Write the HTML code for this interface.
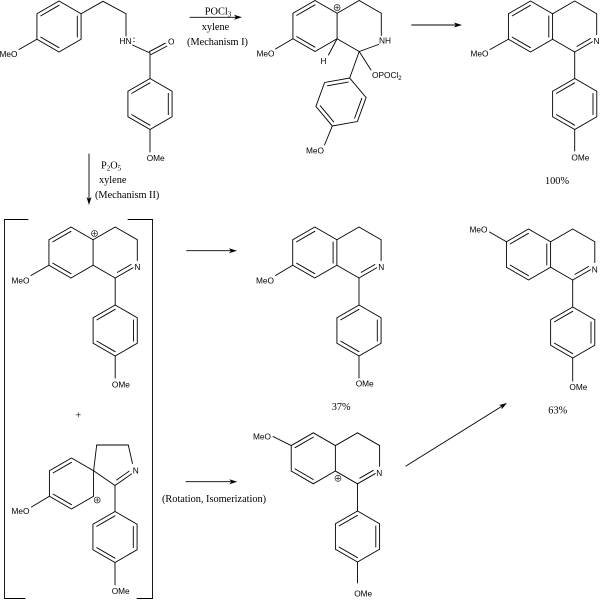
<!DOCTYPE html>
<html><head><meta charset="utf-8"><style>
html,body{margin:0;padding:0;background:#fff;}
svg{display:block;}
.s{font-family:"Liberation Sans",Arial,sans-serif;font-size:8.3px;fill:#000;}
.r{font-family:"Liberation Serif","Times New Roman",serif;font-size:10.3px;fill:#000;}
</style></head><body>
<svg width="600" height="600" viewBox="0 0 600 600" xmlns="http://www.w3.org/2000/svg">
<rect width="600" height="600" fill="#fff"/>
<defs>
<g id="ph">
<polygon points="0,-25.5 22.08,-12.75 22.08,12.75 0,25.5 -22.08,12.75 -22.08,-12.75" fill="none"/>
<line x1="-18.3" y1="-10.6" x2="0" y2="-21.2"/>
<line x1="18.3" y1="-10.6" x2="18.3" y2="10.6"/>
<line x1="0" y1="21.2" x2="-18.3" y2="10.6"/>
</g>
<g id="hx2">
<polygon points="0,-25.5 22.08,-12.75 22.08,12.75 0,25.5 -22.08,12.75 -22.08,-12.75" fill="none"/>
<line x1="-18.3" y1="-10.6" x2="0" y2="-21.2"/>
<line x1="0" y1="21.2" x2="-18.3" y2="10.6"/>
</g>
<g id="pc">
<circle r="3" fill="none" stroke-width="0.6"/>
<path d="M-1.9 0H1.9M0 -1.9V1.9" stroke-width="0.6"/>
</g>
<path id="ah" d="M0 0L-8 -2.5L-6 0L-8 2.5Z" fill="#000" stroke="none"/>
</defs>

<g stroke="#000" stroke-width="0.9" fill="none" stroke-linecap="round">
<!-- Molecule A: starting amide -->
<use href="#ph" transform="translate(59,26.5)"/>
<line x1="36.9" y1="39.25" x2="19" y2="49.5"/>
<polyline points="81.1,13.75 103,1.3 126,13.75 126,36"/>
<line x1="132.5" y1="45" x2="150" y2="53"/>
<line x1="149.3" y1="51.7" x2="165.3" y2="43.2"/>
<line x1="150.9" y1="54.6" x2="166.9" y2="46.1"/>
<line x1="150" y1="53" x2="150" y2="78.5"/>
<use href="#ph" transform="translate(150,104)"/>
<line x1="150" y1="129.5" x2="150" y2="152"/>

<!-- Top arrow 1 -->
<line x1="190" y1="17.3" x2="236" y2="17.3"/>
<!-- Molecule B -->
<use href="#hx2" transform="translate(315,26)"/>
<polyline points="337.1,13.25 359.2,0.5 381.3,13.25 381.3,35.5"/>
<line x1="378.5" y1="44.5" x2="359.2" y2="51.5"/>
<line x1="359.2" y1="51.5" x2="337.1" y2="38.75"/>
<line x1="337.1" y1="38.75" x2="328.5" y2="55"/>
<line x1="359.2" y1="51.5" x2="371" y2="70"/>
<line x1="359.2" y1="51.5" x2="349.7" y2="78"/>
<use href="#ph" transform="translate(341,102) rotate(20)"/>
<line x1="332.3" y1="126" x2="324.5" y2="145"/>
<line x1="292.9" y1="38.75" x2="275.5" y2="49"/>
<use href="#pc" transform="translate(337.1,7.5)"/>

<!-- Top arrow 2 -->
<line x1="411.7" y1="25" x2="456" y2="25"/>
<!-- Molecule C -->
<use href="#ph" transform="translate(530.5,26.5)"/>
<polyline points="552.6,13.75 574.7,1 596.7,13.75 596.7,34.5"/>
<line x1="592.4" y1="41.75" x2="574.7" y2="52"/>
<line x1="590.6" y1="38.5" x2="576.9" y2="46.4"/>
<line x1="574.7" y1="52" x2="552.6" y2="39.25"/>
<line x1="574.7" y1="52" x2="574.7" y2="78.5"/>
<use href="#ph" transform="translate(574.7,104)"/>
<line x1="574.7" y1="129.5" x2="574.7" y2="151"/>
<line x1="508.4" y1="39.25" x2="490" y2="49.5"/>

<!-- Vertical arrow -->
<line x1="89" y1="154" x2="89" y2="199"/>

<!-- Brackets -->
<polyline points="28,219.5 4.5,219.5 4.5,598.5 25,598.5"/>
<polyline points="128,219.5 152.5,219.5 152.5,598.5 137,598.5"/>

<!-- Molecule D -->
<use href="#hx2" transform="translate(71,252.5)"/>
<polyline points="93.1,239.75 115.2,227 137.3,239.75 137.3,260.5"/>
<line x1="133" y1="267.75" x2="115.2" y2="278"/>
<line x1="131.1" y1="264.5" x2="117.4" y2="272.4"/>
<line x1="115.2" y1="278" x2="93.1" y2="265.25"/>
<line x1="115.2" y1="278" x2="115.2" y2="305"/>
<use href="#ph" transform="translate(115.2,330.5)"/>
<line x1="115.2" y1="356" x2="115.2" y2="378"/>
<line x1="48.9" y1="265.25" x2="31" y2="275.5"/>
<use href="#pc" transform="translate(94.5,233.5)"/>

<!-- Mid arrow -->
<line x1="186.7" y1="250.7" x2="231" y2="250.7"/>

<!-- Molecule F -->
<use href="#ph" transform="translate(314.8,252.5)"/>
<polyline points="336.9,239.75 359,227 381.1,239.75 381.1,260.5"/>
<line x1="376.8" y1="267.75" x2="359" y2="278"/>
<line x1="374.9" y1="264.5" x2="361.2" y2="272.4"/>
<line x1="359" y1="278" x2="336.9" y2="265.25"/>
<line x1="359" y1="278" x2="359" y2="305"/>
<use href="#ph" transform="translate(359,330.5)"/>
<line x1="359" y1="356" x2="359" y2="378"/>
<line x1="292.7" y1="265.25" x2="275.5" y2="275.5"/>

<!-- Molecule G -->
<use href="#ph" transform="translate(528.5,254.5)"/>
<polyline points="550.6,241.75 572.7,229 594.8,241.75 594.8,262.5"/>
<line x1="590.5" y1="269.75" x2="572.7" y2="280"/>
<line x1="588.6" y1="266.5" x2="574.9" y2="274.4"/>
<line x1="572.7" y1="280" x2="550.6" y2="267.25"/>
<line x1="572.7" y1="280" x2="572.7" y2="307"/>
<use href="#ph" transform="translate(572.7,332.5)"/>
<line x1="572.7" y1="358" x2="572.7" y2="381"/>
<line x1="506.4" y1="241.75" x2="489.5" y2="232"/>

<!-- Molecule E (spiro) -->
<use href="#hx2" transform="translate(71.5,483.5)"/>
<line x1="93.6" y1="470.75" x2="96.7" y2="445"/>
<line x1="96.7" y1="445" x2="128.3" y2="445"/>
<line x1="128.3" y1="445" x2="132.5" y2="463.5"/>
<line x1="131.5" y1="474" x2="115" y2="485.5"/>
<line x1="129" y1="471.3" x2="116.5" y2="480"/>
<line x1="115" y1="485.5" x2="93.6" y2="470.75"/>
<line x1="115" y1="485.5" x2="115" y2="511.5"/>
<use href="#ph" transform="translate(115,537)"/>
<line x1="115" y1="562.5" x2="115" y2="585"/>
<line x1="49.4" y1="496.25" x2="31.5" y2="507"/>
<use href="#pc" transform="translate(97.2,500)"/>

<!-- Rotation arrow -->
<line x1="186" y1="481.7" x2="231.3" y2="481.7"/>

<!-- Molecule H -->
<use href="#hx2" transform="translate(313.3,458.3)"/>
<polyline points="335.4,445.55 357.5,432.8 379.6,445.55 379.6,466.3"/>
<line x1="375.3" y1="473.55" x2="357.5" y2="483.8"/>
<line x1="373.4" y1="470.3" x2="359.7" y2="478.2"/>
<line x1="357.5" y1="483.8" x2="335.4" y2="471.05"/>
<line x1="357.5" y1="483.8" x2="357.5" y2="511"/>
<use href="#ph" transform="translate(357.5,536.5)"/>
<line x1="357.5" y1="562" x2="357.5" y2="583"/>
<line x1="291.2" y1="445.55" x2="273" y2="436.5"/>
<use href="#pc" transform="translate(338,478.3)"/>

<!-- Diagonal arrow -->
<line x1="406" y1="466" x2="501.9" y2="406.2"/>
</g>

<!-- Arrowheads -->
<use href="#ah" transform="translate(242,17.3)"/>
<use href="#ah" transform="translate(462,25)"/>
<use href="#ah" transform="translate(89,205) rotate(90)"/>
<use href="#ah" transform="translate(237,250.7)"/>
<use href="#ah" transform="translate(237.3,481.7)"/>
<use href="#ah" transform="translate(507,403) rotate(-31.95)"/>

<!-- lone pair -->
<circle cx="134" cy="38" r="0.6" fill="#000"/>
<circle cx="134" cy="41.5" r="0.6" fill="#000"/>

<!-- Sans labels -->
<g class="s">
<text x="17.5" y="57" text-anchor="end">MeO</text>
<text x="131.5" y="44" text-anchor="end">HN</text>
<text x="168" y="44.5">O</text>
<text x="146.7" y="161">OMe</text>

<text x="274.5" y="56.7" text-anchor="end">MeO</text>
<text x="379" y="43.5">NH</text>
<text x="320.5" y="64">H</text>
<text x="372" y="78">OPOCl<tspan font-size="6" dy="2">2</tspan></text>
<text x="324" y="153.5" text-anchor="end">MeO</text>

<text x="488.5" y="56.7" text-anchor="end">MeO</text>
<text x="593.5" y="44">N</text>
<text x="571.4" y="160.5">OMe</text>

<text x="29.5" y="283.3" text-anchor="end">MeO</text>
<text x="134.5" y="270">N</text>
<text x="111.9" y="387.3">OMe</text>

<text x="274" y="283.3" text-anchor="end">MeO</text>
<text x="378.2" y="270">N</text>
<text x="355.7" y="386.7">OMe</text>

<text x="487.5" y="232.7" text-anchor="end">MeO</text>
<text x="591.7" y="272.7">N</text>
<text x="569.4" y="390">OMe</text>

<text x="29.5" y="514" text-anchor="end">MeO</text>
<text x="132.7" y="473.5">N</text>
<text x="111.7" y="594">OMe</text>

<text x="271" y="439.3" text-anchor="end">MeO</text>
<text x="376.3" y="476">N</text>
<text x="354.2" y="596.5">OMe</text>
</g>

<!-- Serif texts -->
<g class="r">
<text x="218" y="14.5" text-anchor="middle">POCl<tspan font-size="7" dy="2">3</tspan></text>
<text x="215.5" y="30" text-anchor="middle">xylene</text>
<text x="217.5" y="45" text-anchor="middle">(Mechanism I)</text>
<text x="101" y="168.5">P<tspan font-size="7" dy="2">2</tspan><tspan dy="-2">O</tspan><tspan font-size="7" dy="2">5</tspan></text>
<text x="99" y="183">xylene</text>
<text x="95" y="198">(Mechanism II)</text>
<text x="545" y="184">100%</text>
<text x="331.7" y="410">37%</text>
<text x="548.3" y="413.3">63%</text>
<text x="78.3" y="418.5" text-anchor="middle">+</text>
<text x="162" y="502">(Rotation, Isomerization)</text>
</g>
</svg>
</body></html>
